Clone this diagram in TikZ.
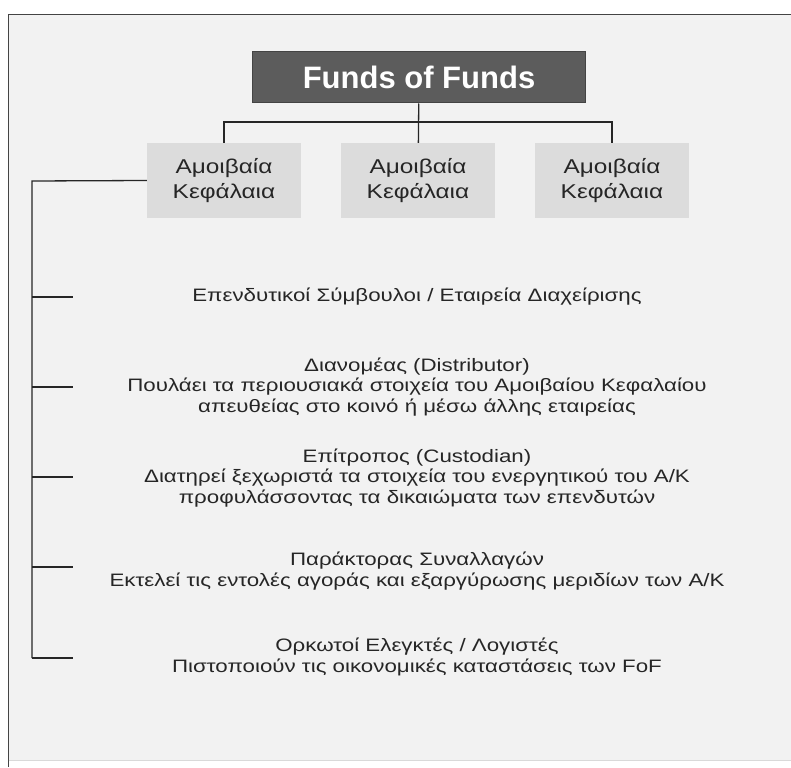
\documentclass[tikz,border=0pt]{standalone}
\usepackage{fontspec}
\setmainfont{Liberation Sans}
\usetikzlibrary{positioning}
\definecolor{pagegray}{HTML}{F2F2F2}
\definecolor{framegray}{HTML}{444444}
\definecolor{titlegray}{HTML}{5C5C5C}
\definecolor{fundgray}{HTML}{DCDCDC}
\definecolor{inkgray}{HTML}{262626}
\tikzset{ln/.style={draw=inkgray,line width=1.3pt}}
\tikzset{fofbox/.style={fill=titlegray,draw=framegray,line width=1pt,minimum width=333pt,minimum height=51pt,text=white,font=\fontsize{31}{34}\selectfont\bfseries}}
\tikzset{fund/.style={fill=fundgray,xscale=1.22,minimum width=126.2pt,minimum height=75pt,align=center,text=inkgray,font=\fontsize{20}{25}\selectfont}}
\tikzset{role/.style={align=center,xscale=1.24,text=inkgray,font=\fontsize{18}{20.5}\selectfont}}

\begin{document}
\begin{tikzpicture}[x=1pt,y=-1pt]
\useasboundingbox (0,0) rectangle (791,767);
\fill[white] (0,0) rectangle (791,767);
\fill[pagegray] (8.5,14.5) rectangle (800,760);
\draw[framegray,line width=1.6pt] (8.5,767) -- (8.5,14.5) -- (800,14.5);
\draw[black!15,line width=1pt] (8.5,760) -- (800,760);

\begin{scope}[on grid]
\node[fofbox] (fof) at (419,77.5) {Funds of Funds};
\node[fund] (mf2) at (418,180.5) {Αμοιβαία\\Κεφάλαια};
\node[fund] (mf1) [left = 194pt of mf2] {Αμοιβαία\\Κεφάλαια};
\node[fund] (mf3) [right = 194pt of mf2] {Αμοιβαία\\Κεφάλαια};
\end{scope}

\coordinate (bus) at (419,122);
\draw[ln] (fof) -- (mf2);
\draw[ln] (mf1.north) |- (bus) -| (mf3.north);

% roles
\node[role] (adv) at (417,297) {Επενδυτικοί Σύμβουλοι / Εταιρεία Διαχείρισης};
\node[role] (dist) at (417,387) {Διανομέας (Distributor)\\Πουλάει τα περιουσιακά στοιχεία του Αμοιβαίου Κεφαλαίου\\απευθείας στο κοινό ή μέσω άλλης εταιρείας};
\node[role] (cust) at (417,478) {Επίτροπος (Custodian)\\Διατηρεί ξεχωριστά τα στοιχεία του ενεργητικού του Α/Κ\\προφυλάσσοντας τα δικαιώματα των επενδυτών};
\node[role] (brok) at (417,571) {Παράκτορας Συναλλαγών\\Εκτελεί τις εντολές αγοράς και εξαργύρωσης μεριδίων των Α/Κ};
\node[role] (aud) at (417,657) {Ορκωτοί Ελεγκτές / Λογιστές\\Πιστοποιούν τις οικονομικές καταστάσεις των FoF};

\coordinate (sp0) at (32,181);
\coordinate (sp5) at (32,658);
\coordinate (tk1) at (73,297);
\coordinate (tk2) at (73,387);
\coordinate (tk3) at (73,477);
\coordinate (tk4) at (73,567);
\coordinate (tk5) at (73,658);
\draw[ln] (mf1.west) -- (sp0) -- (sp5);
\draw[ln] (sp0 |- tk1) -- (tk1);
\draw[ln] (sp0 |- tk2) -- (tk2);
\draw[ln] (sp0 |- tk3) -- (tk3);
\draw[ln] (sp0 |- tk4) -- (tk4);
\draw[ln] (sp5) -- (tk5);
\end{tikzpicture}
\end{document}
